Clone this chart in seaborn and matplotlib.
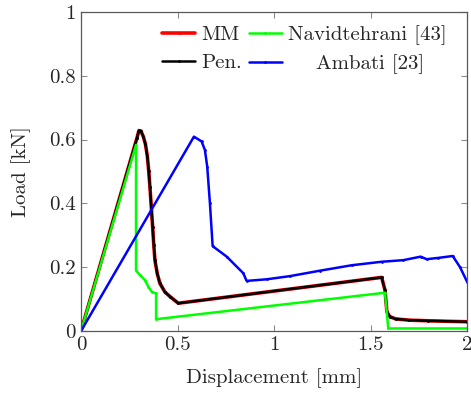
import numpy as np
import pandas as pd
import matplotlib
matplotlib.use("Agg")
import matplotlib.pyplot as plt
import seaborn as sns

# MM / Pen. (phase-field results)
mm_x = [0.0, 0.29, 0.30, 0.31, 0.323, 0.334, 0.344, 0.351, 0.357, 0.364, 0.371, 0.377, 0.383,
        0.395, 0.409, 0.435, 0.461, 0.504,
        1.558, 1.575, 1.585, 1.60, 1.63, 1.70, 1.80, 2.0]
mm_y = [0.0, 0.605, 0.628, 0.627, 0.609, 0.585, 0.546, 0.50, 0.452, 0.39, 0.327, 0.27, 0.222,
        0.18, 0.149, 0.122, 0.108, 0.087,
        0.168, 0.128, 0.06, 0.045, 0.038, 0.034, 0.032, 0.029]
pen_x = list(mm_x)
pen_y = list(mm_y)

# Navidtehrani [43]
nav_x = [0.0, 0.285, 0.285, 0.306, 0.33, 0.349, 0.366, 0.389, 0.389, 1.575, 1.592, 2.0]
nav_y = [0.0, 0.583, 0.19, 0.175, 0.16, 0.139, 0.123, 0.118, 0.037, 0.12, 0.008, 0.008]

# Ambati [23]
amb_x = [0.0, 0.585, 0.625, 0.642, 0.654, 0.668, 0.682, 0.755, 0.841, 0.858, 0.962, 1.083,
         1.238, 1.402, 1.558, 1.67, 1.76, 1.791, 1.85, 1.926, 1.964, 2.0]
amb_y = [0.0, 0.609, 0.594, 0.567, 0.515, 0.40, 0.266, 0.233, 0.181, 0.157, 0.162, 0.172,
         0.189, 0.206, 0.217, 0.222, 0.233, 0.225, 0.229, 0.235, 0.20, 0.155]

sns.set_style("ticks")
plt.rcParams['font.family'] = ['cmr10', 'DejaVu Serif']
plt.rcParams['axes.formatter.use_mathtext'] = True
plt.rcParams['mathtext.fontset'] = 'cm'

fig = plt.figure(figsize=(4.71, 3.95), dpi=100)
ax = fig.add_axes([0.172, 0.162, 0.8195, 0.808])

series = [
    ("MM", mm_x, mm_y, "#ff0000", 2.6),
    ("Pen.", pen_x, pen_y, "#000000", 1.8),
    ("Navidtehrani [43]", nav_x, nav_y, "#00ff00", 1.8),
    ("    Ambati [23]", amb_x, amb_y, "#0000ff", 1.8),
]
for name, xs, ys, col, lw in series:
    df = pd.DataFrame({"x": xs, "y": ys})
    sns.lineplot(data=df, x="x", y="y", sort=False, estimator=None, ax=ax,
                 color=col, lw=lw, marker="o", markersize=2, markeredgewidth=0,
                 label=name)

fs = 15
ax.set_xlim(0, 2)
ax.set_ylim(0, 1)
ax.set_xticks([0, 0.5, 1, 1.5, 2])
ax.set_xticklabels(["0", "0.5", "1", "1.5", "2"])
ax.set_yticks([0, 0.2, 0.4, 0.6, 0.8, 1])
ax.set_yticklabels(["0", "0.2", "0.4", "0.6", "0.8", "1"])
ax.tick_params(direction="in", length=4, width=0.8, color="0.55", labelsize=fs,
               top=True, right=True, pad=4)
for s in ax.spines.values():
    s.set_visible(True)
    s.set_color("0.35")
    s.set_linewidth(0.9)
ax.set_xlabel("Displacement [mm]", fontsize=fs, labelpad=10)
ax.set_ylabel("Load [kN]", fontsize=fs, labelpad=13)

leg = ax.legend(ncol=2, loc="upper right", bbox_to_anchor=(0.975, 0.99), frameon=False,
                fontsize=fs, handlelength=1.6, handletextpad=0.3, columnspacing=0.3,
                labelspacing=0.45, borderaxespad=0.1)

fig.savefig("out.png", dpi=100)
